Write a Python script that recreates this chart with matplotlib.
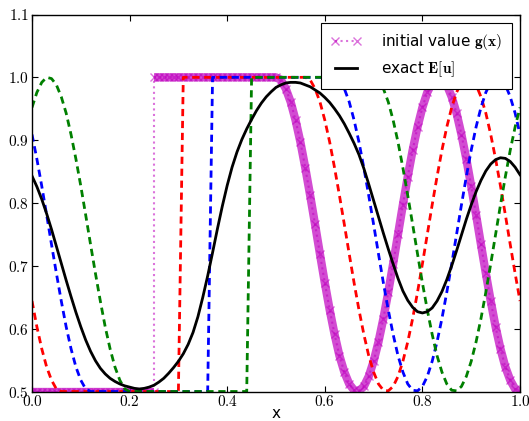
import numpy as np
import matplotlib
matplotlib.use('Agg')
import matplotlib.pyplot as plt
from matplotlib.ticker import FuncFormatter

plt.rcParams['mathtext.fontset'] = 'cm'
plt.rcParams['font.size'] = 11

# sample positions (step 0.01)
x = np.linspace(0, 1, 101)

# initial value g(x) (jump at x = 0.25)
x_g = np.r_[x[:26], x[25:]]
g = [0.5, 0.5, 0.5, 0.5, 0.5, 0.5, 0.5, 0.5, 0.5, 0.5,
     0.5, 0.5, 0.5, 0.5, 0.5, 0.5, 0.5, 0.5, 0.5, 0.5,
     0.5, 0.5, 0.5, 0.5, 0.5, 0.5,
     1.0, 1.0, 1.0, 1.0, 1.0, 1.0, 1.0, 1.0, 1.0, 1.0,
     1.0, 1.0, 1.0, 1.0, 1.0, 1.0, 1.0, 1.0, 1.0, 1.0,
     1.0, 1.0, 1.0, 1.0, 1.0,
     1.000, 0.996, 0.982, 0.961, 0.932, 0.897, 0.856, 0.812, 0.766, 0.719,
     0.673, 0.630, 0.591, 0.557, 0.531, 0.512, 0.502, 0.501, 0.508, 0.524,
     0.548, 0.579, 0.616, 0.658, 0.703, 0.750, 0.797, 0.842, 0.884, 0.921,
     0.952, 0.976, 0.992, 1.000, 0.998, 0.988, 0.969, 0.943, 0.909, 0.870,
     0.827, 0.781, 0.734, 0.688, 0.644, 0.603, 0.568, 0.539, 0.518, 0.504,
     0.500]

# dashed samples
red = [0.644, 0.603, 0.568, 0.539, 0.518, 0.504,
       0.5, 0.5, 0.5, 0.5, 0.5, 0.5, 0.5, 0.5, 0.5, 0.5,
       0.5, 0.5, 0.5, 0.5, 0.5, 0.5, 0.5, 0.5, 0.5, 0.5,
       0.5, 0.5, 0.5, 0.5, 0.5,
       1.0, 1.0, 1.0, 1.0, 1.0, 1.0, 1.0, 1.0, 1.0, 1.0,
       1.0, 1.0, 1.0, 1.0, 1.0, 1.0, 1.0, 1.0, 1.0, 1.0,
       1.0, 1.0, 1.0, 1.0, 1.0,
       1.000, 0.996, 0.982, 0.961, 0.932, 0.897, 0.856, 0.812, 0.766, 0.719,
       0.673, 0.630, 0.591, 0.557, 0.531, 0.512, 0.502, 0.501, 0.508, 0.524,
       0.548, 0.579, 0.616, 0.658, 0.703, 0.750, 0.797, 0.842, 0.884, 0.921,
       0.952, 0.976, 0.992, 1.000, 0.998, 0.988, 0.969, 0.943, 0.909, 0.870,
       0.827, 0.781, 0.734, 0.688, 0.644]

blue = [0.909, 0.870, 0.827, 0.781, 0.734, 0.688, 0.644, 0.603, 0.568, 0.539,
        0.518, 0.504,
        0.5, 0.5, 0.5, 0.5, 0.5, 0.5, 0.5, 0.5, 0.5, 0.5,
        0.5, 0.5, 0.5, 0.5, 0.5, 0.5, 0.5, 0.5, 0.5, 0.5,
        0.5, 0.5, 0.5, 0.5, 0.5,
        1.0, 1.0, 1.0, 1.0, 1.0, 1.0, 1.0, 1.0, 1.0, 1.0,
        1.0, 1.0, 1.0, 1.0, 1.0, 1.0, 1.0, 1.0, 1.0, 1.0,
        1.0, 1.0, 1.0, 1.0, 1.0,
        1.000, 0.996, 0.982, 0.961, 0.932, 0.897, 0.856, 0.812, 0.766, 0.719,
        0.673, 0.630, 0.591, 0.557, 0.531, 0.512, 0.502, 0.501, 0.508, 0.524,
        0.548, 0.579, 0.616, 0.658, 0.703, 0.750, 0.797, 0.842, 0.884, 0.921,
        0.952, 0.976, 0.992, 1.000, 0.998, 0.988, 0.969, 0.943, 0.909]

green = [0.952, 0.976, 0.992, 1.000, 0.998, 0.988, 0.969, 0.943, 0.909, 0.870,
         0.827, 0.781, 0.734, 0.688, 0.644, 0.603, 0.568, 0.539, 0.518, 0.504,
         0.5, 0.5, 0.5, 0.5, 0.5, 0.5, 0.5, 0.5, 0.5, 0.5,
         0.5, 0.5, 0.5, 0.5, 0.5, 0.5, 0.5, 0.5, 0.5, 0.5,
         0.5, 0.5, 0.5, 0.5, 0.5,
         1.0, 1.0, 1.0, 1.0, 1.0, 1.0, 1.0, 1.0, 1.0, 1.0,
         1.0, 1.0, 1.0, 1.0, 1.0, 1.0, 1.0, 1.0, 1.0, 1.0,
         1.0, 1.0, 1.0, 1.0, 1.0,
         1.000, 0.996, 0.982, 0.961, 0.932, 0.897, 0.856, 0.812, 0.766, 0.719,
         0.673, 0.630, 0.591, 0.557, 0.531, 0.512, 0.502, 0.501, 0.508, 0.524,
         0.548, 0.579, 0.616, 0.658, 0.703, 0.750, 0.797, 0.842, 0.884, 0.921,
         0.952]

# exact expectation E[u]
exact = [0.843, 0.826, 0.806, 0.783, 0.758, 0.731, 0.704, 0.677, 0.651, 0.626,
         0.603, 0.582, 0.564, 0.549, 0.537, 0.528, 0.521, 0.516, 0.512, 0.509,
         0.507, 0.505, 0.504, 0.505, 0.507, 0.510, 0.515, 0.521, 0.529, 0.538,
         0.548, 0.560, 0.575, 0.594, 0.619, 0.650, 0.684, 0.721, 0.759, 0.795,
         0.828, 0.857, 0.881, 0.901, 0.918, 0.933, 0.947, 0.959, 0.969, 0.977,
         0.984, 0.988, 0.991, 0.992, 0.992, 0.991, 0.988, 0.985, 0.980, 0.975,
         0.968, 0.960, 0.950, 0.939, 0.926, 0.911, 0.895, 0.877, 0.855, 0.830,
         0.804, 0.778, 0.752, 0.727, 0.703, 0.680, 0.660, 0.645, 0.634, 0.627,
         0.625, 0.627, 0.633, 0.644, 0.659, 0.678, 0.700, 0.724, 0.749, 0.774,
         0.797, 0.818, 0.836, 0.851, 0.862, 0.869, 0.872, 0.871, 0.866, 0.857,
         0.845]

xticks = [0.0, 0.2, 0.4, 0.6, 0.8, 1.0]
yticks = [0.5, 0.6, 0.7, 0.8, 0.9, 1.0, 1.1]

fig = plt.figure(figsize=(5.29, 4.21), dpi=100)
ax = fig.add_axes([32 / 529, 1 - 391.5 / 421, 488 / 529, 377 / 421])

# thick band under the dense x markers (split at the jump)
ax.plot(x_g[:26], g[:26], color='m', lw=6, alpha=0.7, solid_capstyle='butt')
ax.plot(x_g[26:], g[26:], color='m', lw=6, alpha=0.7, solid_capstyle='butt')
ax.plot(x_g, g, 'm:x', ms=5.5, mew=1, alpha=0.55, label=r'initial value $\mathbf{g}(\mathbf{x})$')

for ys, c in [(red, 'r'), (blue, 'b'), (green, 'g')]:
    ax.plot(x, ys, color=c, lw=2, dashes=(2.6, 1.7))

ax.plot(x, exact, 'k-', lw=2, label=r'exact $\mathbf{E}[\mathbf{u}]$')

ax.set_xlim(0, 1)
ax.set_ylim(0.5, 1.1)
ax.set_xticks(xticks)
ax.set_yticks(yticks)
fmt = FuncFormatter(lambda v, p: '$%.1f$' % v)
ax.xaxis.set_major_formatter(fmt)
ax.yaxis.set_major_formatter(fmt)
ax.tick_params(direction='in', top=True, right=True, length=4, width=0.8, pad=2)
for sp in ax.spines.values():
    sp.set_linewidth(1.0)
ax.set_xlabel('x', labelpad=-2.5)

leg = ax.legend(loc='upper right', fancybox=False, edgecolor='k', framealpha=1,
                numpoints=2, borderaxespad=0.55, borderpad=0.6, handletextpad=1.3)
leg.get_frame().set_linewidth(0.8)

fig.savefig('out.png', dpi=100)
